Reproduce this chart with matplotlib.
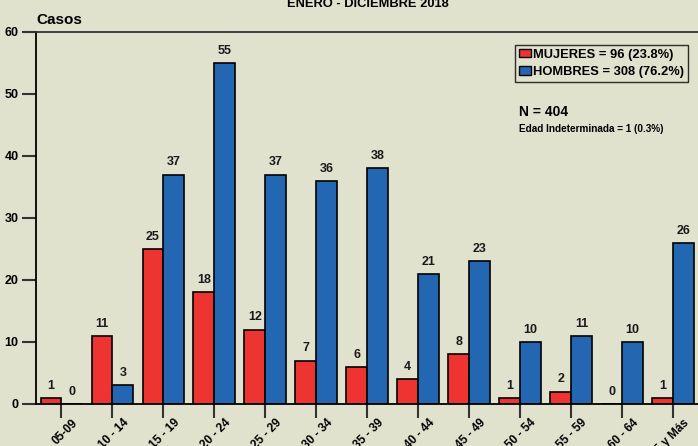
import numpy as np
import matplotlib
matplotlib.use("Agg")
import matplotlib.pyplot as plt
import matplotlib.transforms as mtransforms
from matplotlib.patches import Patch

# --- Data -------------------------------------------------------------------
groups = ["05-09", "10 - 14", "15 - 19", "20 - 24", "25 - 29", "30 - 34",
          "35 - 39", "40 - 44", "45 - 49", "50 - 54", "55 - 59", "60 - 64",
          "65 y Más"]
mujeres = [1, 11, 25, 18, 12, 7, 6, 4, 8, 1, 2, 0, 1]
hombres = [0, 3, 37, 55, 37, 36, 38, 21, 23, 10, 11, 10, 26]

legend_labels = ["MUJERES = 96 (23.8%)", "HOMBRES = 308 (76.2%)"]
title = "ENERO - DICIEMBRE 2018"
n_text = "N = 404"
note_text = "Edad Indeterminada = 1 (0.3%)"

# --- Style ------------------------------------------------------------------
bg = "#E0E2CE"
red = "#EE3430"
blue = "#2367B3"
plt.rcParams["font.family"] = ["Liberation Sans", "DejaVu Sans"]
plt.rcParams["font.weight"] = "bold"

fig = plt.figure(figsize=(6.98, 4.46), dpi=100, facecolor=bg)
ax = fig.add_axes([36 / 698, 42 / 446, 662.5 / 698, 372 / 446], facecolor=bg)

x = np.arange(len(groups))
w = 0.41
ax.bar(x - w / 2, mujeres, w, color=red, edgecolor="black", lw=1.2)
ax.bar(x + w / 2, hombres, w, color=blue, edgecolor="black", lw=1.2)

for xi, v in zip(x, mujeres):
    ax.text(xi - w / 2, v + 1.0, str(v), ha="center", va="bottom",
            fontsize=9, fontweight="bold", color="#1a1a1a")
for xi, v in zip(x, hombres):
    ax.text(xi + w / 2, v + 1.0, str(v), ha="center", va="bottom",
            fontsize=9, fontweight="bold", color="#1a1a1a")

ax.set_xlim(-0.5, len(groups) - 0.5)
ax.set_ylim(0, 60)
ax.set_yticks(range(0, 61, 10))
ax.set_xticks(x)
ax.set_xticklabels([])
# rotated group labels, ending just right of each tick
offset = mtransforms.ScaledTranslation(10 / 100, -13 / 100, fig.dpi_scale_trans)
for xi, g in zip(x, groups):
    ax.text(xi, 0, g, transform=ax.get_xaxis_transform() + offset,
            rotation=45, ha="right", va="top", rotation_mode="anchor",
            fontsize=8.5, fontweight="bold", clip_on=False)
ax.tick_params(axis="x", length=10, width=1.5, color="#333333")
ax.tick_params(axis="y", length=10, width=1.5, color="#333333",
               labelsize=9, pad=2.5)
for lab in ax.get_yticklabels():
    lab.set_fontweight("bold")
for s in ["left", "bottom", "top"]:
    ax.spines[s].set_linewidth(1.3)
ax.spines["top"].set_color("#333333")
ax.spines["right"].set_visible(False)

ax.text(0.0, 1 + 8 / 372, "Casos", transform=ax.transAxes, fontsize=11,
        fontweight="bold", ha="left", va="baseline")
fig.text(0.5265, 1 - 7 / 446, title, ha="center", va="baseline",
         fontsize=9.3, fontweight="bold")

handles = [Patch(facecolor=red, edgecolor="black"),
           Patch(facecolor=blue, edgecolor="black")]
leg = ax.legend(handles, legend_labels, loc="upper left",
                bbox_to_anchor=(479 / 662.5, 1 - 13 / 372), fontsize=9.3,
                frameon=True, fancybox=False, handlelength=0.9,
                handleheight=0.6, handletextpad=0.2, borderpad=0.3,
                labelspacing=0.4, borderaxespad=0)
leg.get_frame().set_edgecolor("black")
leg.get_frame().set_facecolor(bg)
leg.get_frame().set_linewidth(1.0)
for t in leg.get_texts():
    t.set_fontweight("bold")

ax.text(483 / 662.5, 1 - 80 / 372, n_text, transform=ax.transAxes,
        fontsize=10, fontweight="bold", ha="left", va="center")
ax.text(483 / 662.5, 1 - 97 / 372, note_text, transform=ax.transAxes,
        fontsize=7.2, fontweight="bold", ha="left", va="center")

fig.savefig("out.png", dpi=100, facecolor=bg)
